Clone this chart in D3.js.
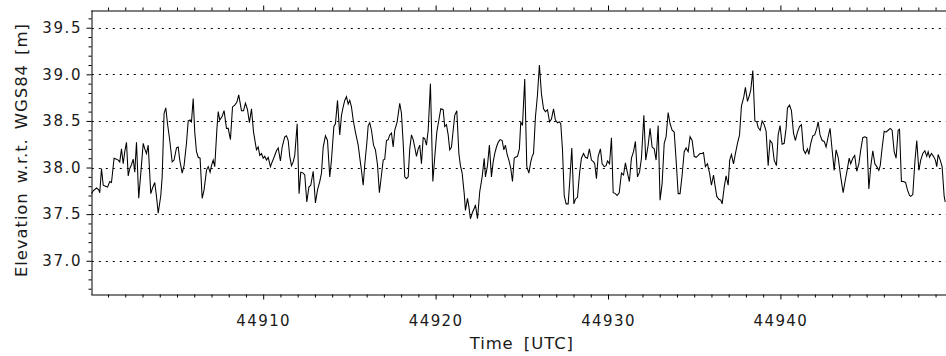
<!DOCTYPE html>
<html>
<head>
<meta charset="utf-8">
<script src="https://cdn.jsdelivr.net/npm/d3@7"></script>
<style>
  html, body { margin: 0; padding: 0; background: #fff; }
  svg { display: block; }
  text { font-family: "DejaVu Sans", sans-serif; fill: #1a1a1a; }
</style>
</head>
<body>
<svg id="chart" width="946" height="356"></svg>
<script>
// ---- Data ----
const timeUTC = [
44900.04,44900.14,44900.33,44900.46,44900.52,44900.62,44900.72,44900.85,44900.97,44901.10,
44901.20,44901.35,44901.49,44901.59,44901.68,44901.78,44901.88,44901.97,44902.07,44902.17,
44902.26,44902.36,44902.46,44902.55,44902.65,44902.78,44902.90,44903.04,44903.13,44903.23,
44903.33,44903.48,44903.58,44903.71,44903.81,44903.91,44904.06,44904.14,44904.25,44904.35,
44904.45,44904.58,44904.72,44904.83,44904.97,44905.07,44905.16,44905.30,44905.41,44905.55,
44905.65,44905.76,44905.84,44905.94,44906.03,44906.13,44906.23,44906.34,44906.46,44906.57,
44906.71,44906.81,44906.92,44907.00,44907.10,44907.19,44907.31,44907.39,44907.48,44907.62,
44907.73,44907.87,44907.97,44908.10,44908.22,44908.35,44908.47,44908.58,44908.74,44908.86,
44908.97,44909.09,44909.20,44909.32,44909.44,
44909.61,44909.71,44909.80,44909.90,44910.00,44910.09,44910.19,44910.29,44910.42,44910.52,
44910.63,44910.77,44910.87,44911.00,44911.10,44911.25,44911.35,44911.45,44911.54,44911.64,
44911.74,44911.83,44911.97,44912.08,44912.18,44912.32,44912.41,44912.53,44912.65,44912.76,
44912.90,44913.03,44913.15,44913.28,44913.38,44913.48,44913.61,44913.73,44913.86,44913.96,
44914.10,44914.19,44914.31,44914.44,44914.54,44914.64,44914.73,44914.83,44914.93,44915.02,
44915.12,44915.22,44915.35,44915.51,44915.62,44915.70,44915.80,44915.89,44916.01,44916.09,
44916.18,44916.28,44916.40,44916.51,44916.63,44916.74,44916.86,44916.96,44917.05,44917.15,
44917.25,44917.34,44917.44,44917.54,44917.63,44917.77,44917.92,44918.02,44918.12,44918.21,
44918.31,44918.41,44918.50,44918.60,44918.70,44918.79,44918.89,44918.99,44919.08,44919.18,
44919.28,44919.37,44919.47,44919.57,
44919.70,44919.84,44919.95,44920.07,44920.19,44920.30,44920.44,44920.53,44920.63,44920.73,
44920.82,44920.92,44921.02,44921.11,44921.23,44921.35,44921.44,44921.54,44921.66,44921.73,
44921.85,44921.93,44922.02,44922.14,44922.24,44922.31,44922.43,44922.56,44922.70,44922.82,
44922.89,44923.01,44923.12,44923.24,44923.34,44923.43,44923.53,44923.63,44923.74,44923.86,
44923.96,44924.05,44924.15,44924.25,44924.36,44924.46,44924.56,44924.63,44924.75,44924.86,
44924.94,44925.04,44925.17,44925.29,44925.41,44925.52,44925.60,44925.68,44925.79,44925.91,
44926.02,44926.14,44926.26,44926.37,44926.49,44926.61,44926.72,44926.84,44926.95,44927.07,
44927.18,44927.26,44927.36,44927.46,44927.57,44927.69,44927.78,44927.90,44928.02,44928.11,
44928.23,44928.35,44928.46,44928.58,44928.69,44928.81,44928.92,44929.04,44929.16,
44929.23,44929.33,44929.43,44929.56,44929.66,44929.78,44929.89,44929.97,44930.09,44930.20,
44930.30,44930.43,44930.53,44930.65,44930.78,44930.90,44931.01,44931.13,44931.24,44931.36,
44931.48,44931.59,44931.71,44931.83,44931.94,44932.08,44932.19,44932.33,44932.44,44932.56,
44932.68,44932.79,44932.91,44933.02,44933.14,44933.26,44933.37,44933.49,44933.60,44933.72,
44933.84,44933.95,44934.07,44934.18,44934.30,44934.42,44934.53,44934.65,44934.76,44934.88,
44935.00,44935.11,44935.23,44935.34,44935.46,44935.54,44935.65,44935.77,44935.89,44936.00,
44936.12,44936.19,44936.31,44936.43,44936.54,44936.62,44936.74,44936.85,44936.97,44937.06,
44937.16,44937.28,44937.39,44937.51,44937.63,44937.74,44937.88,44937.97,44938.09,44938.21,
44938.28,44938.40,44938.52,44938.63,44938.71,44938.83,44938.94,44939.06,44939.17,
44939.29,44939.40,44939.52,44939.64,44939.77,44939.87,44939.98,44940.10,44940.22,44940.33,
44940.41,44940.53,44940.64,44940.76,44940.87,44940.99,44941.11,44941.22,44941.34,44941.45,
44941.57,44941.65,44941.76,44941.88,44941.99,44942.11,44942.19,44942.30,44942.42,44942.54,
44942.65,44942.77,44942.88,44943.00,44943.12,44943.23,44943.35,44943.50,44943.64,44943.75,
44943.87,44943.99,44944.08,44944.20,44944.31,44944.43,44944.55,44944.66,44944.78,44944.90,
44945.01,44945.13,44945.24,44945.36,44945.48,44945.59,44945.71,44945.79,44945.90,44946.02,
44946.13,44946.25,44946.37,44946.48,44946.60,44946.71,44946.83,44946.91,44947.02,44947.14,
44947.26,44947.37,44947.49,44947.56,44947.68,44947.80,44947.91,44948.03,44948.14,44948.26,
44948.38,44948.49,44948.57,44948.65,44948.76,44948.88,44948.99,44949.07,44949.15,44949.27,
44949.38,44949.50,44949.56
];
const elevation = [
37.72,37.75,37.78,37.76,37.73,37.99,37.81,37.80,37.79,37.85,
37.84,38.10,38.09,38.08,38.06,38.20,38.04,38.17,38.27,37.91,
37.99,38.03,38.09,37.95,38.27,37.67,37.94,38.26,38.20,38.15,
38.24,37.72,37.78,37.84,37.69,37.51,37.70,37.90,38.58,38.64,
38.47,38.29,38.06,38.08,38.21,38.22,38.08,37.94,38.02,38.26,
38.50,38.51,38.49,38.74,38.38,38.17,38.11,38.10,37.67,37.76,
37.97,38.01,37.95,38.02,38.08,38.01,38.40,38.60,38.51,38.55,
38.61,38.42,38.42,38.30,38.65,38.67,38.70,38.78,38.61,38.61,
38.69,38.62,38.48,38.63,38.38,
38.19,38.22,38.13,38.15,38.10,38.12,38.08,38.11,38.01,38.06,
38.11,38.18,38.21,38.07,38.22,38.33,38.34,38.29,38.12,38.02,
38.06,38.13,38.47,37.72,37.95,37.94,37.92,37.63,37.79,37.81,
37.96,37.62,37.76,37.85,37.94,38.22,38.34,38.29,37.90,38.08,
38.44,38.47,38.72,38.35,38.56,38.65,38.72,38.76,38.68,38.72,
38.65,38.51,38.38,38.24,38.08,37.97,37.81,38.03,38.26,38.45,
38.48,38.40,38.24,38.19,38.03,37.73,37.92,38.08,38.09,38.29,
38.30,38.35,38.37,38.22,38.40,38.49,38.69,38.58,38.26,37.90,
37.88,37.90,38.20,38.35,38.30,38.22,38.12,38.20,38.24,38.04,
38.32,38.31,38.24,38.40,
38.90,37.85,38.11,38.38,38.51,38.63,38.62,38.44,38.46,38.35,
38.19,38.22,38.40,38.56,38.61,38.15,38.02,37.94,37.72,37.54,
37.67,37.58,37.45,37.52,37.56,37.60,37.45,37.74,37.90,38.10,
37.90,38.02,38.24,37.90,38.06,38.15,38.22,38.27,38.30,38.29,
38.19,38.24,38.14,38.08,37.99,37.85,38.10,38.11,38.12,38.20,
38.49,38.45,38.95,38.01,37.94,38.06,38.12,38.15,38.54,38.78,
39.10,38.79,38.63,38.60,38.62,38.49,38.52,38.63,38.51,38.48,
38.49,38.47,38.19,37.70,37.61,37.61,37.85,38.21,37.61,37.66,
37.68,37.94,38.10,38.15,38.11,38.10,38.20,38.08,38.06,
38.04,37.88,38.12,38.20,38.04,38.01,38.02,38.07,38.04,38.32,
37.73,37.72,37.70,37.73,37.94,37.92,38.05,37.94,37.85,38.10,
38.17,38.28,37.90,37.95,38.10,38.56,38.08,38.24,38.42,38.22,
38.20,38.08,38.45,37.65,37.83,38.26,38.33,38.59,38.47,38.40,
38.38,38.08,37.72,37.72,37.92,38.17,38.21,38.17,38.33,38.29,
38.12,38.11,38.13,38.15,38.15,38.16,38.01,38.04,37.94,37.81,
37.92,37.83,37.69,37.66,37.65,37.61,37.79,37.91,37.81,38.08,
38.14,38.04,38.15,38.26,38.35,38.66,38.76,38.86,38.71,38.78,
38.83,39.04,38.50,38.49,38.43,38.40,38.50,38.46,38.39,
38.02,38.29,38.26,38.08,38.02,38.35,38.45,38.25,38.26,38.42,
38.64,38.67,38.61,38.37,38.29,38.38,38.44,38.46,38.19,38.15,
38.20,38.14,38.26,38.34,38.35,38.42,38.49,38.35,38.29,38.28,
38.22,38.33,38.42,38.19,37.97,38.19,38.11,37.90,37.73,37.85,
37.97,38.10,38.04,38.10,38.13,37.96,38.04,38.19,38.32,38.33,
38.32,37.77,38.01,38.18,38.04,38.01,37.97,38.02,38.21,38.39,
38.38,38.40,38.42,38.40,38.17,38.10,38.40,38.41,37.85,37.85,
37.84,37.76,37.70,37.69,37.71,38.06,38.29,37.97,38.08,38.15,
38.18,38.12,38.17,38.11,38.15,38.12,38.08,38.01,38.14,38.08,
38.01,37.69,37.63
];
const xDomain = [44900, 44950];
const yDomain = [36.64, 39.69];
const xMajorTicks = [44910, 44920, 44930, 44940];
const yMajorTicks = [37.0, 37.5, 38.0, 38.5, 39.0, 39.5];
const xLabel = "Time [UTC]";
const yLabel = "Elevation w.r.t. WGS84 [m]";

// ---- Layout ----
const svg = d3.select("#chart");
const pL = 90.8, pR = 952.8, pT = 10, pB = 294.3;

const x = d3.scaleLinear().domain(xDomain).range([pL, pR]);
const y = d3.scaleLinear().domain(yDomain).range([pB, pT]);

const xMinor = d3.range(xDomain[0] + 1, xDomain[1], 1).filter(v => !xMajorTicks.includes(v));
const yMinor = d3.range(36.7, 39.65, 0.1).map(v => +v.toFixed(1)).filter(v => !yMajorTicks.some(m => Math.abs(m - v) < 1e-6));

// Grid lines (dotted)
svg.append("g").selectAll("line").data(yMajorTicks).join("line")
  .attr("x1", pL + 1).attr("x2", pR)
  .attr("y1", d => Math.round(y(d)) + 0.5).attr("y2", d => Math.round(y(d)) + 0.5)
  .attr("stroke", "#000").attr("stroke-width", 1)
  .attr("stroke-dasharray", "2,5");

// Data line
svg.append("clipPath").attr("id", "clip").append("rect")
  .attr("x", pL).attr("y", pT).attr("width", pR - pL).attr("height", pB - pT);
const line = d3.line().x((d, i) => x(timeUTC[i])).y(d => y(d));
svg.append("path").datum(elevation)
  .attr("clip-path", "url(#clip)")
  .attr("fill", "none").attr("stroke", "#000").attr("stroke-width", 1.05)
  .attr("stroke-linejoin", "miter").attr("d", line);

function styleAxis(g) {
  g.selectAll(".domain").attr("stroke", "#000").attr("stroke-width", 1);
  g.selectAll(".tick line").attr("stroke", "#000");
}

// Bottom axis
const yb = Math.round(pB) + 0.5;
const gxB = svg.append("g").attr("transform", `translate(0,${yb})`)
  .call(d3.axisBottom(x).tickValues(xMajorTicks).tickSize(5).tickSizeOuter(0).tickPadding(16)
        .tickFormat(d3.format("d")));
gxB.call(styleAxis);
gxB.selectAll(".tick text").attr("font-size", 15).attr("letter-spacing", "1.4px")
  .attr("font-family", "DejaVu Sans").attr("fill", "#1a1a1a");
svg.append("g").attr("transform", `translate(0,${yb})`)
  .call(d3.axisBottom(x).tickValues(xMinor).tickSize(3).tickSizeOuter(0).tickFormat(""))
  .call(g => g.select(".domain").remove()).call(styleAxis);

// Top axis
const yt = Math.round(pT) + 0.5;
svg.append("g").attr("transform", `translate(0,${yt})`)
  .call(d3.axisTop(x).tickValues(xMajorTicks).tickSize(5).tickSizeOuter(0).tickFormat(""))
  .call(styleAxis);
svg.append("g").attr("transform", `translate(0,${yt})`)
  .call(d3.axisTop(x).tickValues(xMinor).tickSize(3).tickSizeOuter(0).tickFormat(""))
  .call(g => g.select(".domain").remove()).call(styleAxis);

// Left axis
const xl = Math.round(pL) + 0.5;
const gyL = svg.append("g").attr("transform", `translate(${xl},0)`)
  .call(d3.axisLeft(y).tickValues(yMajorTicks).tickSize(5).tickSizeOuter(0).tickPadding(6)
        .tickFormat(d3.format(".1f")));
gyL.call(styleAxis);
gyL.selectAll(".tick text").attr("font-size", 15).attr("letter-spacing", "1.6px")
  .attr("font-family", "DejaVu Sans").attr("fill", "#1a1a1a").attr("dx", "1.6px");
svg.append("g").attr("transform", `translate(${xl},0)`)
  .call(d3.axisLeft(y).tickValues(yMinor).tickSize(3).tickSizeOuter(0).tickFormat(""))
  .call(g => g.select(".domain").remove()).call(styleAxis);

// Axis titles
svg.append("text").attr("x", (pL + pR) / 2).attr("y", 349)
  .attr("text-anchor", "middle").attr("font-size", 16.5).attr("letter-spacing", "0.9px")
  .attr("word-spacing", "4px")
  .text(xLabel);
svg.append("text").attr("transform", `translate(27,${(pT + pB) / 2 - 2}) rotate(-90)`)
  .attr("text-anchor", "middle").attr("font-size", 16.5).attr("letter-spacing", "0.9px")
  .attr("word-spacing", "3px")
  .text(yLabel);
</script>
</body>
</html>
